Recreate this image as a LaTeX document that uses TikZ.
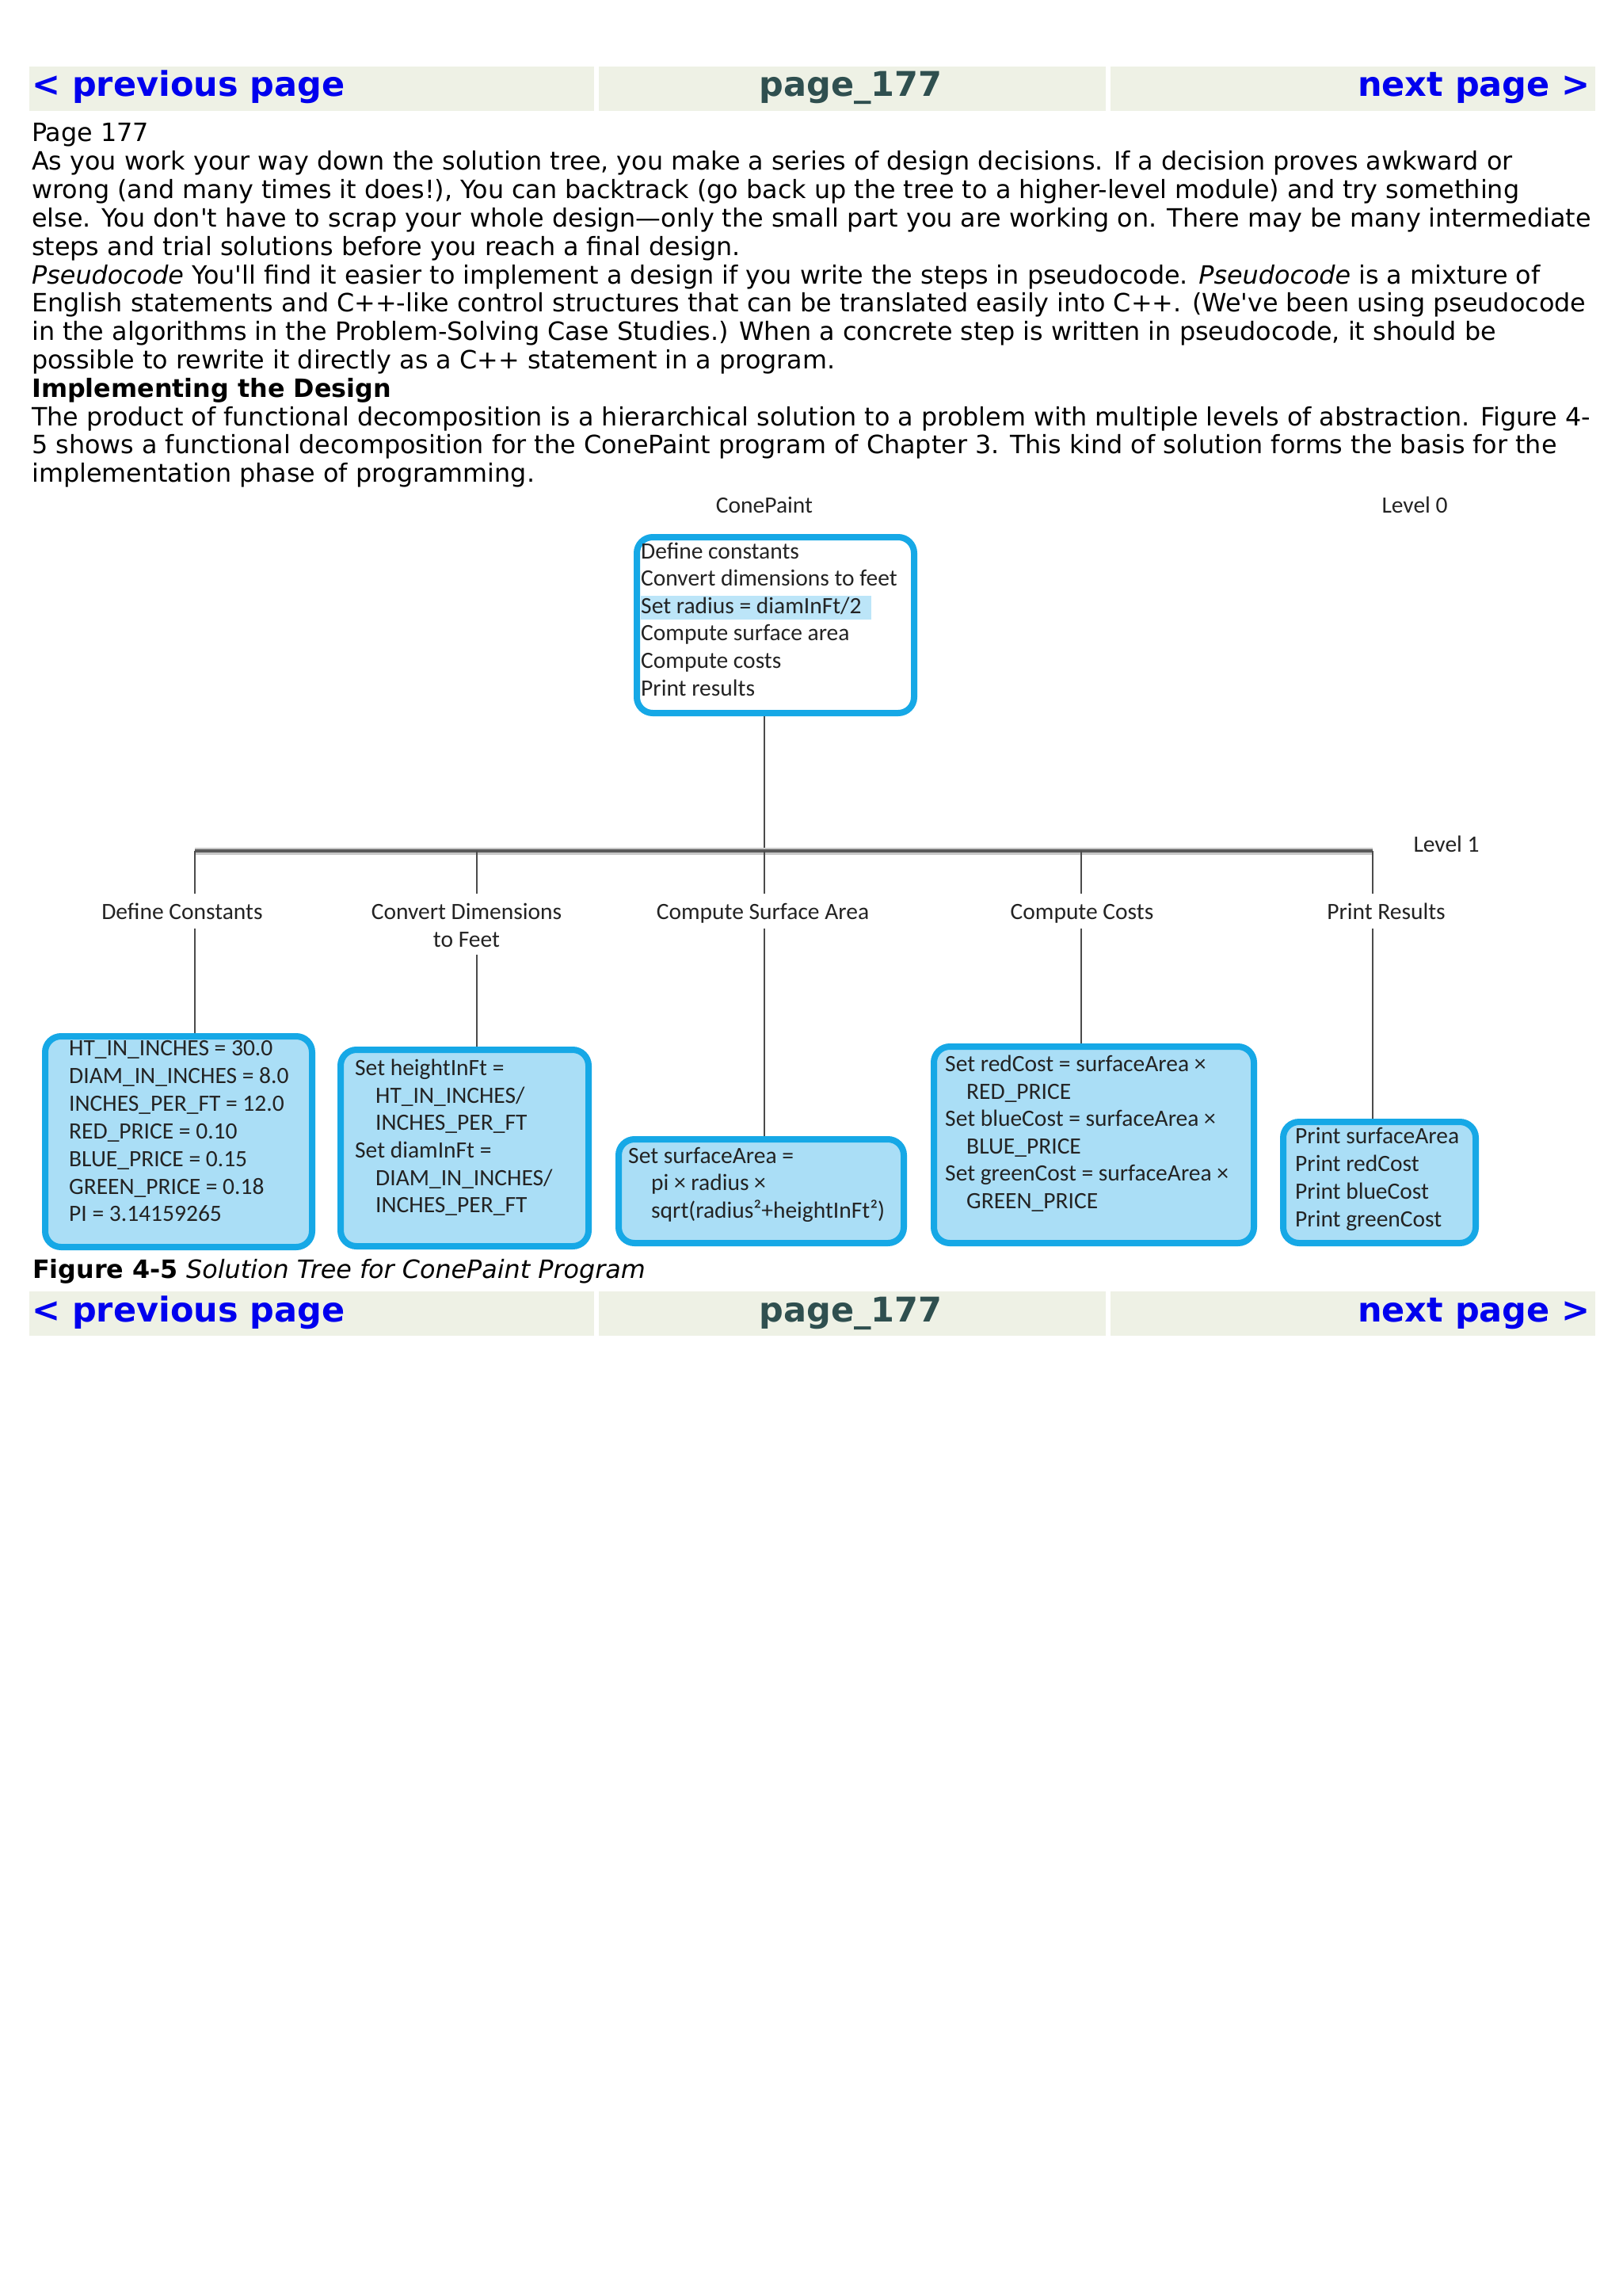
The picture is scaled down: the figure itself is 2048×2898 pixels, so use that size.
\documentclass[tikz,border=0pt]{standalone}
\usepackage{fontspec}
\newfontfamily\bodyfont[Ligatures=TeXOff]{DejaVu Sans}
\newfontfamily\dgmfont[Ligatures=TeXOff]{Carlito}
\definecolor{navbg}{RGB}{238,241,229}
\definecolor{linkblue}{RGB}{0,0,238}
\definecolor{slate}{RGB}{47,79,79}
\definecolor{boxblue}{RGB}{22,168,230}
\definecolor{boxfill}{RGB}{170,222,246}
\definecolor{hl}{RGB}{188,229,248}
\definecolor{dtxt}{RGB}{35,35,35}
\definecolor{conncol}{RGB}{75,75,75}
\begin{document}
\begin{tikzpicture}[x=1pt,y=-1pt,
  navcell/.style={rectangle, fill=navbg, draw=none, inner sep=0, anchor=north west, minimum height=55.5},
  navtxt/.style={inner sep=0, font=\bodyfont\bfseries\fontsize{43}{48}\selectfont},
  body/.style={inner sep=0, anchor=base west, font=\bodyfont\fontsize{31.8}{36}\selectfont},
  dtext/.style={inner sep=0, anchor=base west, text=dtxt, font=\dgmfont\fontsize{29.5}{35}\selectfont},
  lab/.style={inner sep=0, anchor=base, text=dtxt, font=\dgmfont\fontsize{29.5}{35}\selectfont, text height=32, text depth=12},
  leafbox/.style={rectangle, draw=boxblue, line width=8, rounded corners=20, fill=boxfill, inner sep=0, anchor=north west},
  rootbox/.style={leafbox, fill=white},
  conn/.style={draw=conncol, line width=2.5},
]
\useasboundingbox (0,0) rectangle (2048,2898);
\fill[white] (0,0) rectangle (2048,2898);

% ---------- top navigation bar ----------
\node[navcell, minimum width=713] (navL1) at (37,84) {};
\node[navcell, minimum width=640] (navM1) at (756,84) {};
\node[navcell, minimum width=612] (navR1) at (1402,84) {};
\node[navtxt, anchor=base west, text=linkblue] (prev1) at (40,122) {< previous page};
\node[navtxt, anchor=base, text=slate] (pg1) at (1074,122) {page\_177};
\node[navtxt, anchor=base east, text=linkblue] (next1) at (2008,122) {next page >};

% ---------- body text ----------
\node[body] (t00) at (40,179) {Page 177};
\node[body] (t01) at (40,214.8) {As you work your way down the solution tree, you make a series of design decisions. If a decision proves awkward or};
\node[body] (t02) at (40,250.6) {wrong (and many times it does!), You can backtrack (go back up the tree to a higher-level module) and try something};
\node[body] (t03) at (40,286.4) {else. You don't have to scrap your whole design—only the small part you are working on. There may be many intermediate};
\node[body] (t04) at (40,322.2) {steps and trial solutions before you reach a final design.};
\node[body] (t05) at (40,358) {\itshape Pseudocode\upshape{} You'll find it easier to implement a design if you write the steps in pseudocode. \itshape Pseudocode\upshape{} is a mixture of};
\node[body] (t06) at (40,393.8) {English statements and C++-like control structures that can be translated easily into C++. (We've been using pseudocode};
\node[body] (t07) at (40,429.6) {in the algorithms in the Problem-Solving Case Studies.) When a concrete step is written in pseudocode, it should be};
\node[body] (t08) at (40,465.4) {possible to rewrite it directly as a C++ statement in a program.};
\node[body] (t09) at (40,501.2) {\bfseries Implementing the Design};
\node[body] (t10) at (40,537) {The product of functional decomposition is a hierarchical solution to a problem with multiple levels of abstraction. Figure 4-};
\node[body] (t11) at (40,572.8) {5 shows a functional decomposition for the ConePaint program of Chapter 3. This kind of solution forms the basis for the};
\node[body] (t12) at (40,608.6) {implementation phase of programming.};

% ---------- diagram: level 0 ----------
\node[dtext, anchor=base] (conepaint) at (965,647) {ConePaint};
\node[dtext, anchor=base] (level0) at (1786,647) {Level 0};
\node[rootbox, minimum width=350, minimum height=222] (root) at (800,674) {};
\fill[hl] (809,752) rectangle (1100,782);
\node[dtext] (r1) at (809,705) {Define constants};
\node[dtext] (r2) at (809,739.6) {Convert dimensions to feet};
\node[dtext] (r3) at (809,774.2) {Set radius = diamInFt/2};
\node[dtext] (r4) at (809,808.8) {Compute surface area};
\node[dtext] (r5) at (809,843.4) {Compute costs};
\node[dtext] (r6) at (809,878) {Print results};

% ---------- level 1 bar ----------
\coordinate (k1) at (246,1074);
\coordinate (k2) at (602,1074);
\coordinate (k3) at (965,1074);
\coordinate (k4) at (1365,1074);
\coordinate (k5) at (1733,1074);
\draw[conn] (k3 |- root.south) -- (k3);
\draw[draw=black!22, line width=9] (k1) -- (k5);
\draw[draw=black!65, line width=4] (k1) -- (k5);
\node[dtext, anchor=base] (level1) at (1826,1075) {Level 1};

% ---------- level 1 labels ----------
\node[lab] (dc) at (230,1160) {Define Constants};
\node[lab] (cd1) at (589,1160) {Convert Dimensions};
\node[lab, text depth=10] (cd2) at (589,1195) {to Feet};
\node[lab] (csa) at (963,1160) {Compute Surface Area};
\node[lab] (cc) at (1366,1160) {Compute Costs};
\node[lab] (pr) at (1750,1160) {Print Results};

% ---------- level 1 boxes ----------
\node[leafbox, minimum width=337, minimum height=266] (b1) at (53,1304) {};
\node[leafbox, minimum width=313, minimum height=248] (b2) at (426,1321) {};
\node[leafbox, minimum width=360, minimum height=131] (b3) at (777,1434) {};
\node[leafbox, minimum width=404, minimum height=248] (b4) at (1175,1317) {};
\node[leafbox, minimum width=243, minimum height=153] (b5) at (1616,1412) {};

% ---------- connectors ----------
\draw[conn] (k1) -- (k1 |- dc.north);
\draw[conn] (k1 |- dc.south) -- (k1 |- b1.north);
\draw[conn] (k2) -- (k2 |- cd1.north);
\draw[conn] (k2 |- cd2.south) -- (k2 |- b2.north);
\draw[conn] (k3) -- (k3 |- csa.north);
\draw[conn] (k3 |- csa.south) -- (k3 |- b3.north);
\draw[conn] (k4) -- (k4 |- cc.north);
\draw[conn] (k4 |- cc.south) -- (k4 |- b4.north);
\draw[conn] (k5) -- (k5 |- pr.north);
\draw[conn] (k5 |- pr.south) -- (k5 |- b5.north);

% ---------- box texts ----------
\node[dtext] (a1) at (87,1332) {HT\_IN\_INCHES = 30.0};
\node[dtext] (a2) at (87,1367) {DIAM\_IN\_INCHES = 8.0};
\node[dtext] (a3) at (87,1402) {INCHES\_PER\_FT = 12.0};
\node[dtext] (a4) at (87,1437) {RED\_PRICE = 0.10};
\node[dtext] (a5) at (87,1472) {BLUE\_PRICE = 0.15};
\node[dtext] (a6) at (87,1507) {GREEN\_PRICE = 0.18};
\node[dtext] (a7) at (87,1541) {PI = 3.14159265};

\node[dtext] (c1) at (448,1357) {Set heightInFt =};
\node[dtext] (c2) at (474,1392) {HT\_IN\_INCHES/};
\node[dtext] (c3) at (474,1426) {INCHES\_PER\_FT};
\node[dtext] (c4) at (448,1461) {Set diamInFt =};
\node[dtext] (c5) at (474,1496) {DIAM\_IN\_INCHES/};
\node[dtext] (c6) at (474,1530) {INCHES\_PER\_FT};

\node[dtext] (s1) at (793,1468) {Set surfaceArea =};
\node[dtext] (s2) at (822,1502) {pi × radius ×};
\node[dtext] (s3) at (822,1537) {sqrt(radius²+heightInFt²)};

\node[dtext] (e1) at (1193,1352) {Set redCost = surfaceArea ×};
\node[dtext] (e2) at (1220,1387) {RED\_PRICE};
\node[dtext] (e3) at (1193,1421) {Set blueCost = surfaceArea ×};
\node[dtext] (e4) at (1220,1456) {BLUE\_PRICE};
\node[dtext] (e5) at (1193,1490) {Set greenCost = surfaceArea ×};
\node[dtext] (e6) at (1220,1525) {GREEN\_PRICE};

\node[dtext] (p1) at (1635,1443) {Print surfaceArea};
\node[dtext] (p2) at (1635,1478) {Print redCost};
\node[dtext] (p3) at (1635,1513) {Print blueCost};
\node[dtext] (p4) at (1635,1548) {Print greenCost};

% ---------- caption ----------
\node[body] (cap) at (41,1613) {\bfseries Figure 4-5\mdseries\itshape{} Solution Tree for ConePaint Program};

% ---------- bottom navigation bar ----------
\node[navcell, minimum width=713] (navL2) at (37,1630) {};
\node[navcell, minimum width=640] (navM2) at (756,1630) {};
\node[navcell, minimum width=612] (navR2) at (1402,1630) {};
\node[navtxt, anchor=base west, text=linkblue] (prev2) at (40,1668) {< previous page};
\node[navtxt, anchor=base, text=slate] (pg2) at (1074,1668) {page\_177};
\node[navtxt, anchor=base east, text=linkblue] (next2) at (2008,1668) {next page >};
\end{tikzpicture}
\end{document}
